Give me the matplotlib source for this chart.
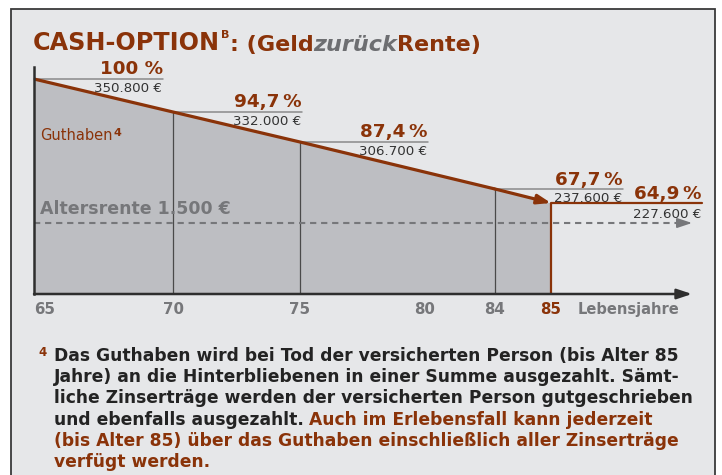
import numpy as np
import matplotlib
matplotlib.use("Agg")
import matplotlib.pyplot as plt
from matplotlib.patches import Rectangle

# values
ages = [65, 70, 75, 84, 85]
percent = [100, 94.7, 87.4, 67.7, 64.9]
pct_labels = ["100 %", "94,7\u2009%", "87,4\u2009%", "67,7\u2009%", "64,9\u2009%"]
amount_labels = ["350.800 €", "332.000 €", "306.700 €", "237.600 €", "227.600 €"]
tick_ages = [65, 70, 75, 80, 84, 85]
pension_label = "Altersrente 1.500 €"

footnote_lines = [
    "Das Guthaben wird bei Tod der versicherten Person (bis Alter 85",
    "Jahre) an die Hinterbliebenen in einer Summe ausgezahlt. Sämt-",
    "liche Zinserträge werden der versicherten Person gutgeschrieben",
    "und ebenfalls ausgezahlt.",
]
footnote_brown = [
    "Auch im Erlebensfall kann jederzeit",
    "(bis Alter 85) über das Guthaben einschließlich aller Zinserträge",
    "verfügt werden.",
]

BROWN = '#8a3309'
GRAY = '#76777a'
DARK = '#232323'
FILL = '#bdbec2'
BG = '#e6e7e9'

W, H = 722, 475
fig = plt.figure(figsize=(W / 100, H / 100), dpi=100)
fig.patch.set_facecolor('white')

# framed panel
fig.add_artist(Rectangle((11 / W, -0.1), (715 - 11) / W, 1 - 9 / H + 0.1,
                         transform=fig.transFigure, fc=BG, ec='#3a3a3a', lw=1.3, zorder=0))

ax = fig.add_axes([34 / W, 1 - 294 / H, (692 - 34) / W, (294 - 67) / H])
ax.set_facecolor('none')
for s in ax.spines.values():
    s.set_visible(False)

# schematic (non-linear) axes, like in the brochure
x_anchor = [65, 70, 75, 80, 84, 85, 89]
x_px = [34, 173, 300, 425, 495, 551, 692]
ax.set_xscale('function', functions=(lambda a: np.interp(a, x_anchor, x_px),
                                     lambda u: np.interp(u, x_px, x_anchor)))
y_anchor = [0, 64.9, 67.7, 87.4, 94.7, 100, 104]
y_px = [294, 203, 189, 142, 112, 79, 67]
ax.set_yscale('function', functions=(lambda v: -np.interp(v, y_anchor, y_px),
                                     lambda u: np.interp(-u, y_px[::-1], y_anchor[::-1])))
ax.set_xlim(65, 89)
ax.set_ylim(0, 104)

# area + verticals
ax.fill_between(ages, percent, 0, color=FILL, lw=0, zorder=1)
ax.vlines(ages[1:4], 0, percent[1:4], color='#4a4a4a', lw=0.9, zorder=2)
ax.vlines(ages[4], 0, percent[4], color=BROWN, lw=1.6, zorder=3)

# Guthaben line with arrow
ax.plot(ages[:4], percent[:4], color=BROWN, lw=2.3, solid_capstyle='butt', zorder=4)
ax.annotate('', xy=(ages[4], percent[4]), xytext=(ages[3], percent[3]),
            arrowprops=dict(arrowstyle='-|>,head_length=0.8,head_width=0.28', color=BROWN,
                            lw=2.3, shrinkA=0, shrinkB=0, mutation_scale=10), zorder=4)

# ledgers and labels
ledger_len = [129, 129, 128, 128, 151]
for i in range(len(ages)):
    L = ledger_len[i]
    if i < 4:
        ax.annotate('', xy=(ages[i], percent[i]), xytext=(L, 0), textcoords='offset pixels',
                    arrowprops=dict(arrowstyle='-', color='#8a8a8a', lw=1.1, shrinkA=0, shrinkB=0),
                    zorder=2, annotation_clip=False)
    else:
        ax.annotate('', xy=(ages[i], percent[i]), xytext=(L, 0), textcoords='offset pixels',
                    arrowprops=dict(arrowstyle='-', color=BROWN, lw=1.6, shrinkA=0, shrinkB=0),
                    zorder=3, annotation_clip=False)
    ax.annotate(pct_labels[i], xy=(ages[i], percent[i]), xytext=(L, 4.5), textcoords='offset pixels',
                ha='right', va='baseline', color=BROWN, fontsize=13.2, fontweight='bold',
                annotation_clip=False)
    ax.annotate(amount_labels[i], xy=(ages[i], percent[i]), xytext=(L - 1, -3 if i < 4 else -5),
                textcoords='offset pixels', ha='right', va='top', color='#333333', fontsize=9.6,
                annotation_clip=False)

# axes lines
ax.plot([0, 0], [0, 1], transform=ax.transAxes, color='#2e2e2e', lw=1.8, clip_on=False, zorder=5)
ax.annotate('', xy=(1, 0), xytext=(0, 0), xycoords='axes fraction',
            arrowprops=dict(arrowstyle='-|>,head_length=0.9,head_width=0.3', color='#2e2e2e',
                            lw=1.8, shrinkA=0, shrinkB=0, mutation_scale=10), zorder=5)

# pension line
yp = (294 - 223) / (294 - 67)
ax.plot([0, 0.985], [yp, yp], transform=ax.transAxes, color=GRAY, lw=1.5,
        ls=(0, (3, 2.3)), clip_on=False, zorder=3)
ax.annotate('', xy=(1, yp), xytext=(0.98, yp), xycoords='axes fraction',
            arrowprops=dict(arrowstyle='-|>,head_length=0.9,head_width=0.3', color=GRAY,
                            lw=1.2, shrinkA=0, shrinkB=0, mutation_scale=10), zorder=3)
ax.annotate(pension_label, xy=(0, yp), xycoords='axes fraction', xytext=(6, 9),
            textcoords='offset pixels', color=GRAY, fontsize=12.5, fontweight='bold',
            va='baseline', ha='left')

# ticks
ax.set_yticks([])
ax.set_xticks(tick_ages)
ax.set_xticklabels([str(a) for a in tick_ages])
ax.tick_params(axis='x', length=0, pad=6, labelsize=10.8, labelcolor=GRAY)
labels = ax.get_xticklabels()
for lbl in labels:
    lbl.set_fontweight('bold')
labels[0].set_ha('left')
labels[-1].set_color(BROWN)
fig.text(578 / W, 1 - 314 / H, "Lebensjahre", color=GRAY, fontsize=10.5, fontweight='bold',
         va='baseline', ha='left')

# Guthaben label
tg = fig.text(40 / W, 1 - 140 / H, "Guthaben", color=BROWN, fontsize=10.5, va='baseline')
ax.annotate("4", xy=(1, 1), xycoords=tg, xytext=(1, 0), textcoords='offset pixels',
            fontsize=8, fontweight='bold', color=BROWN, va='top', ha='left', annotation_clip=False)

# title
t1 = fig.text(33 / W, 1 - 50 / H, "CASH-OPTION", fontsize=17.2, fontweight='bold',
              color=BROWN, va='baseline')
t2 = ax.annotate("B", xy=(1, 1), xycoords=t1, xytext=(1, 1), textcoords='offset pixels',
                 fontsize=8, fontweight='bold', color=BROWN, va='top', ha='left',
                 annotation_clip=False)
t3 = ax.annotate(": (Geld", xy=(1, 0), xycoords=(t2, t1), xytext=(0, 0), textcoords='offset pixels',
                 fontsize=16, fontweight='bold', color=BROWN, va='bottom', ha='left',
                 annotation_clip=False)
t4 = ax.annotate("zurück", xy=(1, 0), xycoords=t3, fontsize=16, fontweight='bold',
                 fontstyle='italic', color='#6d6e71', va='bottom', ha='left', annotation_clip=False)
ax.annotate("Rente)", xy=(1, 0), xycoords=t4, fontsize=16, fontweight='bold',
            color=BROWN, va='bottom', ha='left', annotation_clip=False)

# footnote
fs = 12.3
fig.text(38 / W, 1 - 346 / H, "4", fontsize=8.5, fontweight='bold', color=BROWN, va='top')
tl = None
for i, line in enumerate(footnote_lines):
    t = fig.text(54 / W, 1 - (361 + 21.2 * i) / H, line, fontsize=fs, fontweight='bold',
                 color=DARK, va='baseline')
    if i == 3:
        tl = t
ax.annotate(footnote_brown[0], xy=(1, 0), xycoords=tl, xytext=(5, 0), textcoords='offset pixels',
            fontsize=fs, fontweight='bold', color=BROWN, va='bottom', ha='left', annotation_clip=False)
for j, line in enumerate(footnote_brown[1:]):
    fig.text(54 / W, 1 - (361 + 21.2 * (4 + j)) / H, line, fontsize=fs, fontweight='bold',
             color=BROWN, va='baseline')

fig.savefig("out.png", dpi=100, facecolor='white')
